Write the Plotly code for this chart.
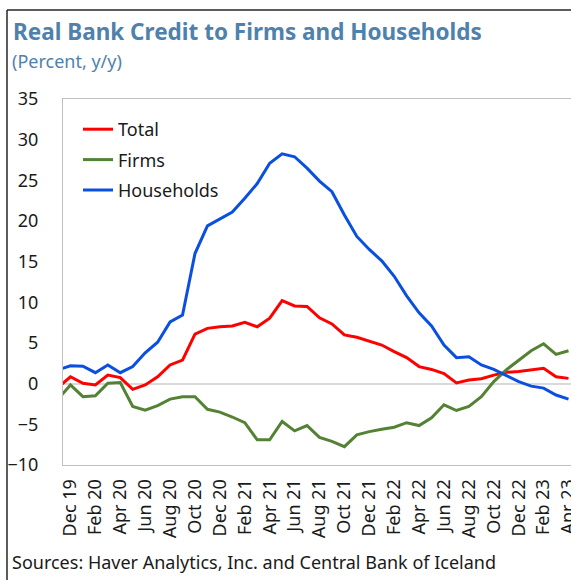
import plotly.graph_objects as go

# Monthly observations, Nov 2019 - Apr 2023 (real bank credit growth, % y/y)
months = [
    "Nov 19", "Dec 19",
    "Jan 20", "Feb 20", "Mar 20", "Apr 20", "May 20", "Jun 20",
    "Jul 20", "Aug 20", "Sep 20", "Oct 20", "Nov 20", "Dec 20",
    "Jan 21", "Feb 21", "Mar 21", "Apr 21", "May 21", "Jun 21",
    "Jul 21", "Aug 21", "Sep 21", "Oct 21", "Nov 21", "Dec 21",
    "Jan 22", "Feb 22", "Mar 22", "Apr 22", "May 22", "Jun 22",
    "Jul 22", "Aug 22", "Sep 22", "Oct 22", "Nov 22", "Dec 22",
    "Jan 23", "Feb 23", "Mar 23", "Apr 23",
]

total = [
    -0.48, 0.85,
    0.05, -0.15, 1.05, 0.75, -0.7, -0.15, 0.85, 2.3, 2.9, 6.1, 6.8, 7.0,
    7.1, 7.55, 7.0, 8.05, 10.2, 9.55, 9.5, 8.1, 7.35, 6.0, 5.7, 5.2,
    4.75, 3.95, 3.2, 2.1, 1.75, 1.25, 0.1, 0.45, 0.6, 1.05, 1.4, 1.5,
    1.7, 1.9, 0.85, 0.65,
]

firms = [
    -1.9, -0.15,
    -1.6, -1.5, 0.05, 0.15, -2.8, -3.25, -2.7, -1.9, -1.6, -1.6, -3.15, -3.5,
    -4.1, -4.8, -6.9, -6.9, -4.65, -5.8, -5.15, -6.6, -7.1, -7.75, -6.3, -5.9,
    -5.6, -5.35, -4.8, -5.15, -4.2, -2.6, -3.3, -2.8, -1.6, 0.25, 1.7, 2.9,
    4.05, 4.9, 3.6, 4.05,
]

households = [
    1.7, 2.2,
    2.15, 1.35, 2.3, 1.35, 2.1, 3.8, 5.1, 7.6, 8.45, 16.0, 19.4, 20.3,
    21.1, 22.8, 24.6, 27.1, 28.25, 27.9, 26.5, 24.9, 23.6, 20.75, 18.1, 16.5,
    15.1, 13.2, 10.8, 8.7, 7.1, 4.75, 3.2, 3.3, 2.3, 1.75, 1.05, 0.25,
    -0.3, -0.55, -1.4, -1.9,
]

# Every second month is labelled, starting at Dec 19
tick_labels = months[1::2]

series = [
    ("Total", total, "#FF0000"),
    ("Firms", firms, "#548235"),
    ("Households", households, "#0A4FE0"),
]

FONT = "Noto Sans, Open Sans, sans-serif"
TEXT = "#1a1a1a"
TITLE_BLUE = "#4F81AD"
FS = 18

fig = go.Figure()
for name, values, color in series:
    fig.add_trace(go.Scatter(
        x=months, y=values, name=name, mode="lines",
        line=dict(color=color, width=3),
        legendgroup=name,
    ))

W, H = 571, 580
L, R, T, B = 63, 0, 99, 115
pw, ph = W - L - R, H - T - B


def px_x(px):
    return (px - L) / pw


def px_y(py):
    return (H - B - py) / ph


fig.update_layout(
    width=W, height=H,
    margin=dict(l=L, r=R, t=T, b=B, autoexpand=False),
    paper_bgcolor="white", plot_bgcolor="white",
    font=dict(family=FONT, size=FS, color=TEXT),
    showlegend=True,
    legend=dict(
        x=px_x(78), y=px_y(111), xanchor="left", yanchor="top",
        bgcolor="rgba(0,0,0,0)", borderwidth=0,
        font=dict(family=FONT, size=FS, color=TEXT),
        traceorder="grouped", tracegroupgap=4,
    ),
    xaxis=dict(
        type="category", automargin=False,
        range=[0.4, 41.2],
        tickmode="array", tickvals=tick_labels, ticktext=tick_labels,
        tickangle=-90, ticks="",
        showgrid=False, zeroline=False,
        showline=True, linecolor="#BFBFBF", linewidth=1, mirror=True,
        tickfont=dict(family=FONT, size=FS, color=TEXT),
        ticklabelstandoff=6,
    ),
    yaxis=dict(
        automargin=False,
        range=[-10, 35], dtick=5, tick0=0,
        ticks="", showgrid=False,
        zeroline=True, zerolinecolor="#D9D9D9", zerolinewidth=1.5,
        showline=True, linecolor="#BFBFBF", linewidth=1, mirror=False,
        tickfont=dict(family=FONT, size=FS, color=TEXT),
        ticklabelstandoff=20,
    ),
    annotations=[
        dict(text="<b>Real Bank Credit to Firms and Households</b>",
             xref="paper", yref="paper", x=px_x(11), y=px_y(32),
             xanchor="left", yanchor="middle", showarrow=False,
             font=dict(family=FONT, size=22.5, color=TITLE_BLUE)),
        dict(text="(Percent, y/y)",
             xref="paper", yref="paper", x=px_x(10), y=px_y(61),
             xanchor="left", yanchor="middle", showarrow=False,
             font=dict(family=FONT, size=FS, color=TITLE_BLUE)),
        dict(text="Sources: Haver Analytics, Inc. and Central Bank of Iceland",
             xref="paper", yref="paper", x=px_x(10), y=px_y(562),
             xanchor="left", yanchor="middle", showarrow=False,
             font=dict(family=FONT, size=FS, color=TEXT)),
    ],
    shapes=[
        # outer frame: left and top edges
        dict(type="line", xref="paper", yref="paper",
             x0=px_x(7), x1=px_x(7), y0=px_y(10), y1=px_y(H + 5),
             line=dict(color="#262626", width=1.5)),
        dict(type="line", xref="paper", yref="paper",
             x0=px_x(7), x1=px_x(W + 5), y0=px_y(10), y1=px_y(10),
             line=dict(color="#262626", width=1.5)),
    ],
)

fig.write_html("out.html")
